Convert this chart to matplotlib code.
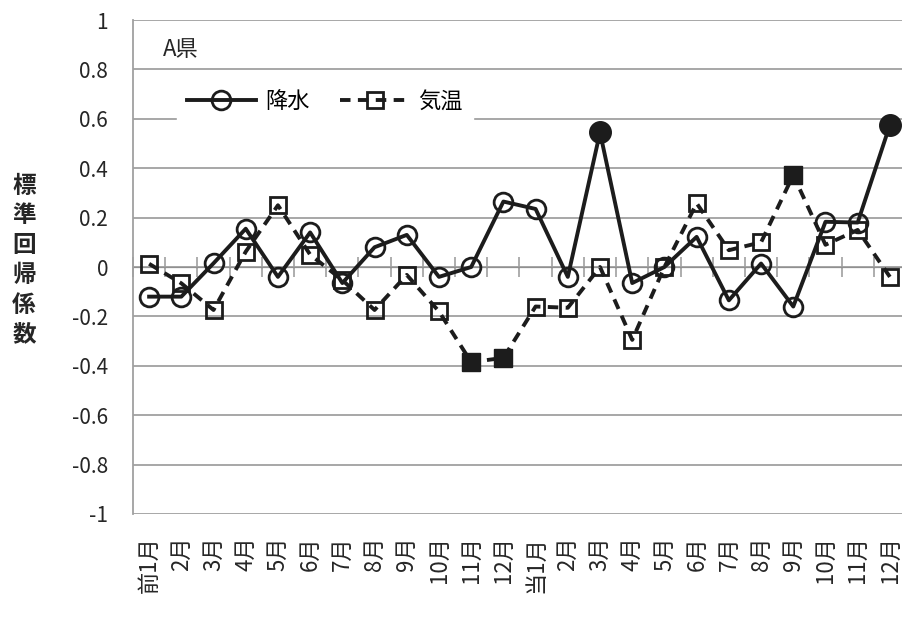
import numpy as np
import matplotlib
matplotlib.use("Agg")
import matplotlib.pyplot as plt

plt.rcParams['font.family'] = ['Noto Sans CJK JP', 'DejaVu Sans']

months = ["前1月", "2月", "3月", "4月", "5月", "6月", "7月", "8月", "9月", "10月", "11月", "12月",
          "当1月", "2月", "3月", "4月", "5月", "6月", "7月", "8月", "9月", "10月", "11月", "12月"]

# standardized regression coefficients
rain = [-0.12, -0.12, 0.015, 0.155, -0.04, 0.14, -0.065, 0.08, 0.13, -0.04, 0.0, 0.265,
        0.235, -0.04, 0.545, -0.065, 0.0, 0.122, -0.135, 0.014, -0.16, 0.183, 0.18, 0.575]
temp = [0.013, -0.066, -0.174, 0.062, 0.25, 0.05, -0.053, -0.174, -0.032, -0.18, -0.385, -0.368,
        -0.16, -0.165, 0.0, -0.295, 0.0, 0.258, 0.068, 0.1, 0.372, 0.09, 0.15, -0.04]

# months where the coefficient is significant (filled markers)
rain_sig = [14, 23]
temp_sig = [10, 11, 20]

ink = "#1c1c1c"
grid_c = "#a0a0a0"

fig = plt.figure(figsize=(9.02, 6.24), dpi=100)
ax = fig.add_axes([133 / 902, 110 / 624, 773 / 902, 494 / 624])

x = np.arange(len(months))
rain = np.array(rain)
temp = np.array(temp)

ax.plot(x, rain, color=ink, lw=2.8, marker='o', ms=13.5, mfc='none', mec=ink, mew=2.0,
        label="降水", zorder=3)
ax.plot(x, temp, color=ink, lw=2.8, ls=(0, (2.7, 1.9)), marker='s', ms=12, mfc='none',
        mec=ink, mew=2.0, label="気温", zorder=4)
ax.plot(x[rain_sig], rain[rain_sig], ls='none', marker='o', ms=15.5, color=ink, zorder=5)
ax.plot(x[temp_sig], temp[temp_sig], ls='none', marker='s', ms=13, color=ink, zorder=5)

ax.set_xlim(-0.5, len(months) - 0.5)
ax.set_ylim(-1, 1)
ax.set_yticks(np.arange(-1, 1.01, 0.2))
ax.set_yticklabels(["-1", "-0.8", "-0.6", "-0.4", "-0.2", "0", "0.2", "0.4", "0.6", "0.8", "1"])
ax.yaxis.grid(True, color=grid_c, lw=1.3)
ax.set_axisbelow(True)
ax.tick_params(axis='y', length=0, pad=18, labelsize=15, labelcolor="#262626")

ax.set_xticks(x)
ax.set_xticklabels(months, rotation=90, fontsize=16, color="#262626")
ax.tick_params(axis='x', length=0, pad=16)

for s in ['top', 'right', 'bottom']:
    ax.spines[s].set_visible(False)
ax.spines['left'].set_color(grid_c)
ax.spines['left'].set_linewidth(1.3)

# category axis crossing at zero
zero_ax = ax.secondary_xaxis(0.5)
zero_ax.set_xticks(np.arange(len(months) + 1) - 0.5)
zero_ax.tick_params(axis='x', direction='inout', length=14, width=1.2, color=grid_c,
                    labelbottom=False, labeltop=False)
zero_ax.spines['bottom'].set_color("#8c8c8c")
zero_ax.spines['bottom'].set_linewidth(1.8)

ax.text(30 / 773, (514 - 50) / 494, "A県", transform=ax.transAxes, fontsize=16,
        va='center', ha='left', color="#262626")

leg = ax.legend(loc='upper left', bbox_to_anchor=(44 / 773, (514 - 80) / 494), ncol=2,
                fontsize=16, handlelength=3.1, columnspacing=1.4, handletextpad=0.4,
                frameon=True, fancybox=False, borderpad=0.45, borderaxespad=0)
leg.get_frame().set_facecolor('white')
leg.get_frame().set_edgecolor('white')
leg.get_frame().set_alpha(1)

fig.text(24 / 902, 1 - 260 / 624, "標\n準\n回\n帰\n係\n数", fontsize=17, fontweight='bold',
         ha='center', va='center', linespacing=1.3, color="#262626")

fig.savefig("out.png", dpi=100)
